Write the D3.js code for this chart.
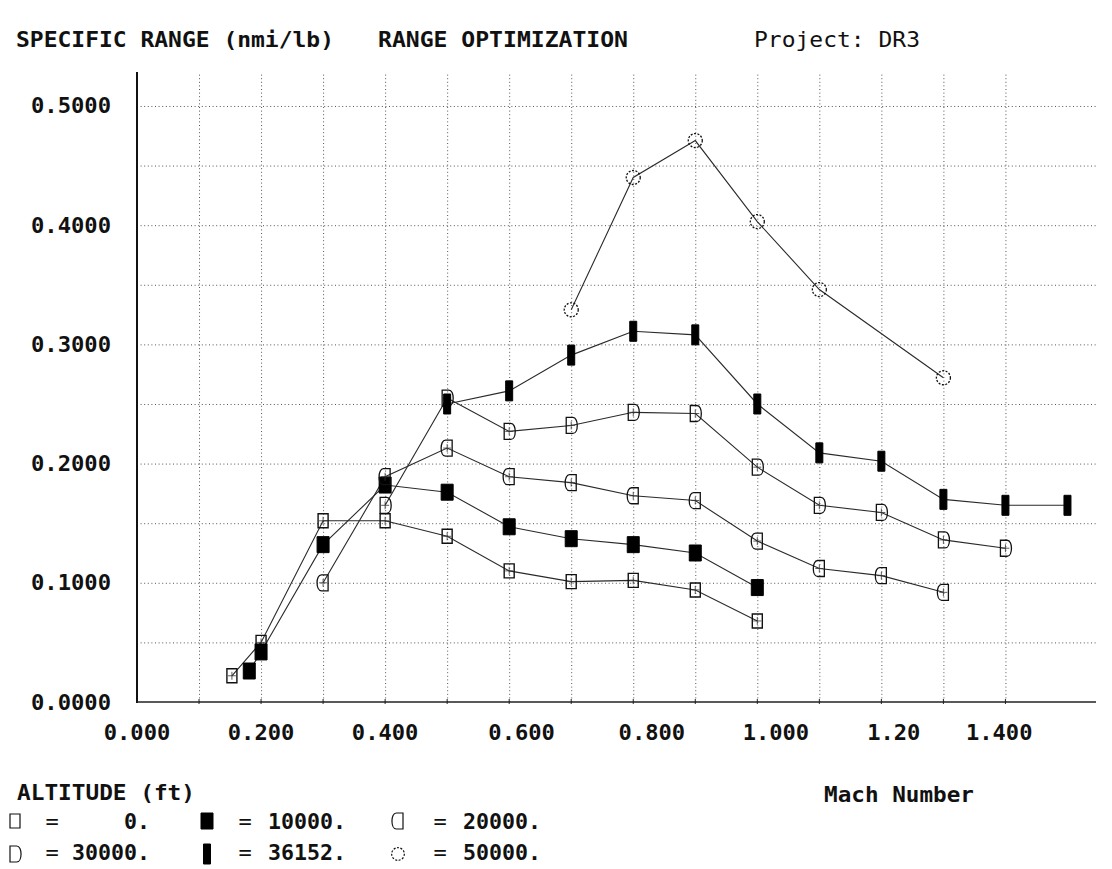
<!DOCTYPE html>
<html>
<head>
<meta charset="utf-8">
<script src="https://cdn.jsdelivr.net/npm/d3@7"></script>
<style>
  html, body { margin: 0; padding: 0; background: #fff; }
  svg { display: block; }
  text { font-family: "DejaVu Sans Mono", "Liberation Mono", monospace; fill: #111; }
</style>
</head>
<body>
<svg id="chart" width="1112" height="869"></svg>
<script>
// ---------------- DATA ----------------
const mach_0ft    = [0.153, 0.20, 0.30, 0.40, 0.50, 0.60, 0.70, 0.80, 0.90, 1.00];
const sr_0ft      = [0.022, 0.050, 0.152, 0.152, 0.139, 0.110, 0.101, 0.102, 0.094, 0.068];

const mach_10000  = [0.181, 0.20, 0.30, 0.40, 0.50, 0.60, 0.70, 0.80, 0.90, 1.00];
const sr_10000    = [0.026, 0.042, 0.132, 0.182, 0.176, 0.147, 0.137, 0.132, 0.125, 0.096];

const mach_20000  = [0.30, 0.40, 0.50, 0.60, 0.70, 0.80, 0.90, 1.00, 1.10, 1.20, 1.30];
const sr_20000    = [0.100, 0.189, 0.213, 0.189, 0.184, 0.173, 0.169, 0.135, 0.112, 0.106, 0.092];

const mach_30000  = [0.40, 0.50, 0.60, 0.70, 0.80, 0.90, 1.00, 1.10, 1.20, 1.30, 1.40];
const sr_30000    = [0.165, 0.255, 0.227, 0.232, 0.243, 0.242, 0.197, 0.165, 0.159, 0.136, 0.129];

const mach_36152  = [0.50, 0.60, 0.70, 0.80, 0.90, 1.00, 1.10, 1.20, 1.30, 1.40, 1.50];
const sr_36152    = [0.250, 0.261, 0.291, 0.311, 0.308, 0.250, 0.209, 0.202, 0.170, 0.165, 0.165];

const mach_50000  = [0.70, 0.80, 0.90, 1.00, 1.10, 1.30];
const sr_50000    = [0.329, 0.440, 0.471, 0.403, 0.346, 0.272];

const altitudeLabels = ["0.", "10000.", "20000.", "30000.", "36152.", "50000."];

const xGridValues   = [0.1, 0.2, 0.3, 0.4, 0.5, 0.6, 0.7, 0.8, 0.9, 1.0, 1.1, 1.2, 1.3, 1.4];
const yGridValues   = [0.05, 0.10, 0.15, 0.20, 0.25, 0.30, 0.35, 0.40, 0.45, 0.50];
const xTickLabels   = ["0.000", "0.200", "0.400", "0.600", "0.800", "1.000", "1.20", "1.400"];
const xTickLabelPos = [0.0, 0.2, 0.4, 0.62, 0.83, 1.03, 1.22, 1.39];
const yTickValues   = [0.0, 0.1, 0.2, 0.3, 0.4, 0.5];
const yTickLabels   = ["0.0000", "0.1000", "0.2000", "0.3000", "0.4000", "0.5000"];

// ---------------- LAYOUT ----------------
const svg = d3.select("#chart");
const x = d3.scaleLinear().domain([0, 1.546]).range([137, 1096]);
const y = d3.scaleLinear().domain([0, 0.5285]).range([702, 72]);
const FS = 22;

// custom marker shapes
const rectSym = (w, h) => ({ draw(c) { c.moveTo(-w/2, -h/2); c.lineTo(w/2, -h/2); c.lineTo(w/2, h/2); c.lineTo(-w/2, h/2); c.closePath(); } });
const leftRoundSym = (w, h) => ({ draw(c) {
  c.moveTo(w/2, -h/2); c.lineTo(-w/6, -h/2);
  c.bezierCurveTo(-w*0.75, -h/2, -w*0.75, h/2, -w/6, h/2);
  c.lineTo(w/2, h/2); c.closePath(); } });
const rightRoundSym = (w, h) => ({ draw(c) {
  c.moveTo(-w/2, -h/2); c.lineTo(w/6, -h/2);
  c.bezierCurveTo(w*0.75, -h/2, w*0.75, h/2, w/6, h/2);
  c.lineTo(-w/2, h/2); c.closePath(); } });

const series = [
  { mach: mach_0ft,   sr: sr_0ft,   sym: rectSym(10, 14),      fill: "none", stroke: "#111", sw: 1.4, dash: null, plus: true },
  { mach: mach_10000, sr: sr_10000, sym: rectSym(12, 16),      fill: "#000", stroke: "#000", sw: 1,   dash: null, plus: false },
  { mach: mach_20000, sr: sr_20000, sym: leftRoundSym(10, 16), fill: "none", stroke: "#111", sw: 1.3, dash: null, plus: true },
  { mach: mach_30000, sr: sr_30000, sym: rightRoundSym(10, 16),fill: "none", stroke: "#111", sw: 1.3, dash: null, plus: true },
  { mach: mach_36152, sr: sr_36152, sym: rectSym(7, 20),       fill: "#000", stroke: "#000", sw: 1,   dash: null, plus: false },
  { mach: mach_50000, sr: sr_50000, sym: d3.symbolCircle,      fill: "none", stroke: "#111", sw: 1.3, dash: "2,1.5", plus: false, size: Math.PI * 49 }
];

// ---------------- GRID ----------------
const gridStyle = g => g.selectAll("line").attr("stroke", "#555").attr("stroke-width", 1).attr("stroke-dasharray", "1,2.6");

svg.append("g")
  .attr("transform", `translate(0,${y(0)})`)
  .call(d3.axisBottom(x).tickValues(xGridValues).tickSize(-(y(0) - y.range()[1])).tickFormat(""))
  .call(g => g.select(".domain").remove())
  .call(gridStyle);

svg.append("g")
  .attr("transform", `translate(${x(0)},0)`)
  .call(d3.axisLeft(y).tickValues(yGridValues).tickSize(-(x.range()[1] - x(0))).tickFormat(""))
  .call(g => g.select(".domain").remove())
  .call(gridStyle);

// small ticks on x axis
svg.append("g").selectAll("line").data(xGridValues).join("line")
  .attr("x1", d => x(d)).attr("x2", d => x(d))
  .attr("y1", y(0) - 3).attr("y2", y(0) + 2)
  .attr("stroke", "#222").attr("stroke-width", 1);

// axis lines
svg.append("line").attr("x1", x(0)).attr("x2", x(0)).attr("y1", y.range()[1]).attr("y2", y(0) + 1)
  .attr("stroke", "#111").attr("stroke-width", 2);
svg.append("line").attr("x1", x(0)).attr("x2", x.range()[1]).attr("y1", y(0)).attr("y2", y(0))
  .attr("stroke", "#222").attr("stroke-width", 1.6);

// ---------------- TICK LABELS ----------------
svg.append("g").selectAll("text").data(yTickValues).join("text")
  .attr("x", 31).attr("y", d => y(d) + 7.5)
  .attr("textLength", 80).attr("lengthAdjust", "spacingAndGlyphs")
  .attr("font-size", FS).attr("font-weight", "bold")
  .text((d, i) => yTickLabels[i]);

svg.append("g").selectAll("text").data(xTickLabels).join("text")
  .attr("x", (d, i) => x(xTickLabelPos[i]) - (d.length * 13.3) / 2)
  .attr("y", 740)
  .attr("textLength", d => d.length * 13.3).attr("lengthAdjust", "spacingAndGlyphs")
  .attr("font-size", FS).attr("font-weight", "bold")
  .text(d => d);

// ---------------- SERIES ----------------
const line = d3.line().x(d => x(d[0])).y(d => y(d[1]));
series.forEach(s => {
  const pts = s.mach.map((m, i) => [m, s.sr[i]]);
  svg.append("path").datum(pts).attr("d", line)
    .attr("fill", "none").attr("stroke", "#2a2a2a").attr("stroke-width", 1.1);
});
series.forEach(s => {
  const pts = s.mach.map((m, i) => [m, s.sr[i]]);
  const sym = d3.symbol().type(s.sym).size(s.size || 64);
  const g = svg.append("g");
  g.selectAll("path").data(pts).join("path")
    .attr("transform", d => `translate(${x(d[0])},${y(d[1])})`)
    .attr("d", sym)
    .attr("fill", s.fill).attr("stroke", s.stroke).attr("stroke-width", s.sw)
    .attr("stroke-dasharray", s.dash);
  if (s.plus) {
    g.selectAll("path.plus").data(pts).join("path").attr("class", "plus")
      .attr("transform", d => `translate(${x(d[0])},${y(d[1])})`)
      .attr("d", "M-4,0H4M0,-4V4")
      .attr("stroke", "#333").attr("stroke-width", 0.8).attr("fill", "none");
  }
});

// ---------------- TITLES ----------------
const txt = (s, xx, yy, len, weight) => svg.append("text")
  .attr("x", xx).attr("y", yy).attr("font-size", FS).attr("font-weight", weight || "bold")
  .attr("textLength", len).attr("lengthAdjust", "spacingAndGlyphs").text(s);

txt("SPECIFIC RANGE (nmi/lb)", 16, 47, 318);
txt("RANGE OPTIMIZATION", 378, 47, 250);
txt("Project: DR3", 754, 47, 166, "normal");
txt("Mach Number", 824, 802, 150);
txt("ALTITUDE (ft)", 17, 800, 178);

// ---------------- LEGEND ----------------
const legendCols = [
  { sx: 15, eq: 52, vEnd: 150 },
  { sx: 207, eq: 245, vEnd: 346 },
  { sx: 398, eq: 440, vEnd: 541 }
];
const legendRows = [821, 854];
const legendBase = [829, 860];
series.forEach((s, i) => {
  const col = legendCols[i % 3], row = Math.floor(i / 3);
  const sym = d3.symbol().type(s.sym).size(s.size ? Math.PI * 40 : 64);
  svg.append("path").attr("transform", `translate(${col.sx},${legendRows[row]})`)
    .attr("d", sym).attr("fill", s.fill).attr("stroke", s.stroke)
    .attr("stroke-width", s.fill === "none" ? 1.2 : 1).attr("stroke-dasharray", s.dash);
  svg.append("text").attr("x", col.eq).attr("y", legendBase[row]).attr("text-anchor", "middle")
    .attr("font-size", FS).attr("fill", "#777").text("=");
  const lbl = altitudeLabels[i];
  svg.append("text").attr("x", col.vEnd - lbl.length * 13).attr("y", legendBase[row])
    .attr("font-size", FS).attr("font-weight", "bold")
    .attr("textLength", lbl.length * 13).attr("lengthAdjust", "spacingAndGlyphs").text(lbl);
});
</script>
</body>
</html>
